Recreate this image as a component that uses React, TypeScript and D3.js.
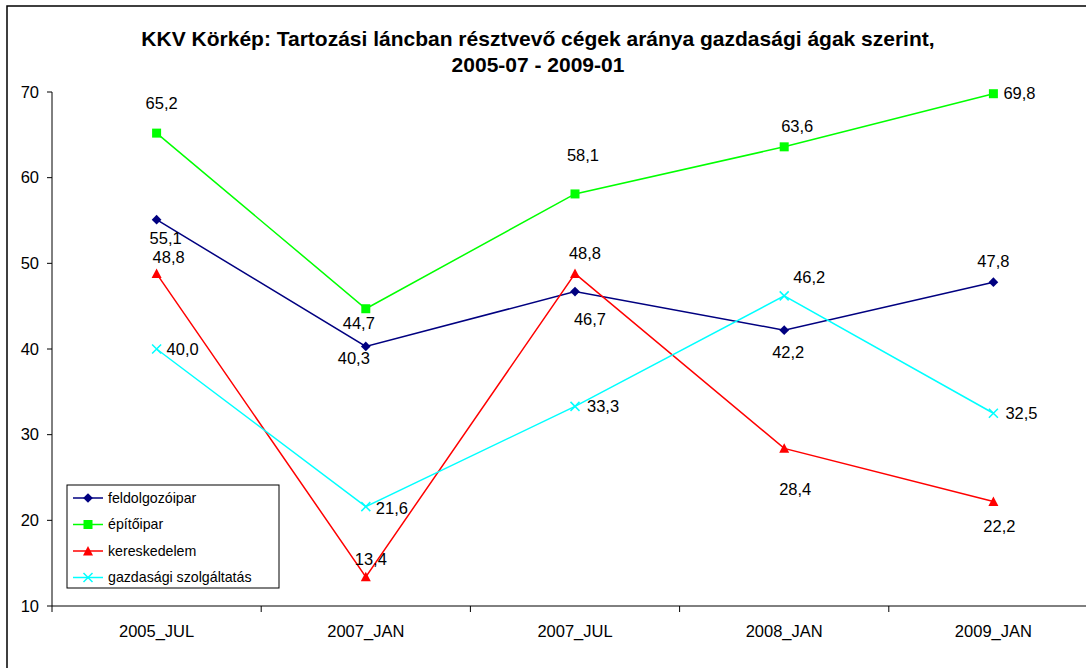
import { useMemo } from "react"
import * as d3 from "d3"

// időszakok (x tengely)
const categories = ["2005_JUL", "2007_JAN", "2007_JUL", "2008_JAN", "2009_JAN"]

const feldolgozoipar = [55.1, 40.3, 46.7, 42.2, 47.8]
const epitoipar = [65.2, 44.7, 58.1, 63.6, 69.8]
const kereskedelem = [48.8, 13.4, 48.8, 28.4, 22.2]
const szolgaltatas = [40.0, 21.6, 33.3, 46.2, 32.5]

const yTicks = [10, 20, 30, 40, 50, 60, 70]

const W = 1086
const H = 668
const margin = { left: 52, top: 92, bottom: 606, right: 1098 }
const FONT = "'Liberation Sans', Arial, sans-serif"

type Marker = "diamond" | "square" | "triangle" | "cross"

// címke eltolások pontonként [dx, dy, anchor]
type LabelPos = [number, number, "middle" | "start"]

const series: {
  name: string
  values: number[]
  color: string
  marker: Marker
  labels: LabelPos[]
}[] = [
  {
    name: "feldolgozóipar",
    values: feldolgozoipar,
    color: "#000080",
    marker: "diamond",
    labels: [
      [9, 19, "middle"],
      [-12, 12, "middle"],
      [15, 28, "middle"],
      [4, 22, "middle"],
      [0, -21, "middle"],
    ],
  },
  {
    name: "építőipar",
    values: epitoipar,
    color: "#00ff00",
    marker: "square",
    labels: [
      [5, -30, "middle"],
      [-7, 14, "middle"],
      [8, -39, "middle"],
      [13, -21, "middle"],
      [10, 0, "start"],
    ],
  },
  {
    name: "kereskedelem",
    values: kereskedelem,
    color: "#ff0000",
    marker: "triangle",
    labels: [
      [12, -16, "middle"],
      [5, -18, "middle"],
      [10, -20, "middle"],
      [11, 41, "middle"],
      [6, 25, "middle"],
    ],
  },
  {
    name: "gazdasági szolgáltatás",
    values: szolgaltatas,
    color: "#00ffff",
    marker: "cross",
    labels: [
      [10, 0, "start"],
      [10, 2, "start"],
      [12, 0, "start"],
      [25, -19, "middle"],
      [12, 0, "start"],
    ],
  },
]

function MarkerShape({ type, x, y, color }: { type: Marker; x: number; y: number; color: string }) {
  if (type === "diamond") {
    const s = d3.symbol().type(d3.symbolDiamond2).size(60)()
    return <path d={s || ""} transform={`translate(${x},${y})`} fill={color} />
  }
  if (type === "square") {
    return <rect x={x - 4.5} y={y - 4.5} width={9} height={9} fill={color} />
  }
  if (type === "triangle") {
    return <path d={`M${x},${y - 5}L${x + 5},${y + 4.5}L${x - 5},${y + 4.5}Z`} fill={color} />
  }
  return (
    <path
      d={`M${x - 4.5},${y - 4.5}L${x + 4.5},${y + 4.5}M${x + 4.5},${y - 4.5}L${x - 4.5},${y + 4.5}`}
      stroke={color}
      strokeWidth={1.5}
      fill="none"
    />
  )
}

export default function App() {
  const x = useMemo(
    () => d3.scaleBand<string>().domain(categories).range([margin.left, margin.right]),
    []
  )
  const y = useMemo(() => d3.scaleLinear().domain([10, 70]).range([margin.bottom, margin.top]), [])
  const cx = (c: string) => (x(c) || 0) + x.bandwidth() / 2

  const line = d3
    .line<number>()
    .x((_d, i) => cx(categories[i]))
    .y((d) => y(d))

  const fmt = (v: number) => v.toFixed(1).replace(".", ",")

  const boundaries = [...categories.map((c) => x(c) || 0), margin.right]

  return (
    <div style={{ position: "fixed", left: 0, top: 0 }}>
      <svg width={W} height={H} style={{ display: "block", background: "#fff" }} fontFamily={FONT}>
        <rect x={7} y={6} width={W + 20} height={H + 20} fill="#fff" stroke="#000" strokeWidth={1.5} />

        {/* cím */}
        <text x={538} y={46} textAnchor="middle" fontSize={21} fontWeight="bold" fill="#000">
          KKV Körkép: Tartozási láncban résztvevő cégek aránya gazdasági ágak szerint,
        </text>
        <text x={538} y={72} textAnchor="middle" fontSize={21} fontWeight="bold" fill="#000">
          2005-07 - 2009-01
        </text>

        {/* y tengely */}
        <line x1={margin.left} x2={margin.left} y1={margin.top} y2={margin.bottom} stroke="#000" />
        {yTicks.map((t) => (
          <g key={t}>
            <line x1={margin.left - 5} x2={margin.left} y1={y(t)} y2={y(t)} stroke="#000" />
            <text x={39} y={y(t)} dy="0.35em" textAnchor="end" fontSize={16.5} fill="#000">
              {t}
            </text>
          </g>
        ))}

        {/* x tengely */}
        <line x1={margin.left} x2={margin.right} y1={margin.bottom} y2={margin.bottom} stroke="#000" />
        {boundaries.map((b, i) => (
          <line key={i} x1={b} x2={b} y1={margin.bottom} y2={margin.bottom + 6} stroke="#000" />
        ))}
        {categories.map((c) => (
          <text key={c} x={cx(c)} y={637} textAnchor="middle" fontSize={16.5} fill="#000">
            {c}
          </text>
        ))}

        {/* vonalak */}
        {series.map((s) => (
          <path key={s.name} d={line(s.values) || ""} fill="none" stroke={s.color} strokeWidth={1.5} />
        ))}
        {series.map((s) =>
          s.values.map((v, i) => (
            <MarkerShape key={s.name + i} type={s.marker} x={cx(categories[i])} y={y(v)} color={s.color} />
          ))
        )}

        {/* adatcímkék */}
        {series.map((s) =>
          s.values.map((v, i) => {
            const [dx, dy, anchor] = s.labels[i]
            return (
              <text
                key={"l" + s.name + i}
                x={cx(categories[i]) + dx}
                y={y(v) + dy}
                dy="0.35em"
                textAnchor={anchor}
                fontSize={16.5}
                fill="#000"
              >
                {fmt(v)}
              </text>
            )
          })
        )}

        {/* jelmagyarázat */}
        <g>
          <rect x={67} y={485} width={212} height={103} fill="#fff" stroke="#000" />
          {series.map((s, i) => {
            const ly = 498 + i * 26.5
            return (
              <g key={"lg" + s.name}>
                <line x1={73} x2={103} y1={ly} y2={ly} stroke={s.color} strokeWidth={1.5} />
                <MarkerShape type={s.marker} x={88} y={ly} color={s.color} />
                <text x={108} y={ly} dy="0.35em" fontSize={14.2} fill="#000">
                  {s.name}
                </text>
              </g>
            )
          })}
        </g>
      </svg>
    </div>
  )
}
